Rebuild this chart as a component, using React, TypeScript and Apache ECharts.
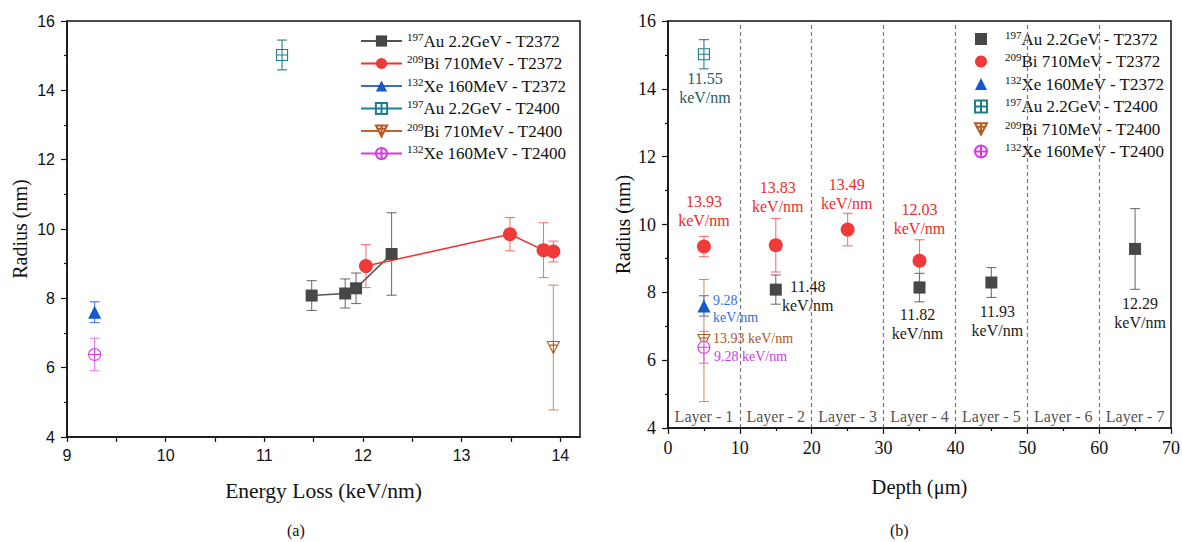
import { useEffect, useRef } from 'react';
import * as echarts from 'echarts';

// ---------------- data ----------------
const auT2372Loss = [11.48, 11.82, 11.93, 12.29];
const auT2372Radius = [8.08, 8.14, 8.29, 9.28];
const auT2372Err = [0.43, 0.42, 0.44, 1.19];
const auT2372Depth = [15, 35, 45, 65];

const biT2372Loss = [12.03, 13.49, 13.83, 13.93];
const biT2372Radius = [8.93, 9.85, 9.39, 9.35];
const biT2372Err = [0.62, 0.48, 0.79, 0.3];
const biT2372Depth = [35, 25, 15, 5];

const xeT2372Loss = [9.28];
const xeT2372Radius = [7.6];
const xeT2372Err = [0.3];
const xeT2372Depth = [5];

const auT2400Loss = [11.18];
const auT2400Radius = [15.02];
const auT2400Err = [0.43];
const auT2400Depth = [5];
const auT2400Quoted = [11.55];

const biT2400Loss = [13.93];
const biT2400Radius = [6.58];
const biT2400Err = [1.8];
const biT2400Depth = [5];

const xeT2400Loss = [9.28];
const xeT2400Radius = [6.38];
const xeT2400Err = [0.47];
const xeT2400Depth = [5];

const layerNames = ['Layer - 1', 'Layer - 2', 'Layer - 3', 'Layer - 4', 'Layer - 5', 'Layer - 6', 'Layer - 7'];
const layerCenters = [5, 15, 25, 35, 45, 55, 65];
const layerBounds = [10, 20, 30, 40, 50, 60];

const lossTickLabels = [9, 10, 11, 12, 13, 14];
const lossTickMarks = [9, 9.5, 10, 10.5, 11, 11.5, 12, 12.5, 13, 13.5, 14];

// ---------------- styles ----------------
const SERIF = "'Liberation Serif', 'Times New Roman', 'DejaVu Serif', serif";
const SANS = "'Liberation Sans', Arial, 'DejaVu Sans', sans-serif";
const INK = '#111';

const SQUARE_PLUS = 'path://M1 1H19V19H1Z M10 1V19 M1 10H19';
const CIRCLE_PLUS = 'path://M19 10A9 9 0 1 1 1 10A9 9 0 1 1 19 10Z M10 1V19 M1 10H19';
const TRI_PLUS = 'path://M1 2H19L10 19Z M10 2V19 M4.5 7H15.5';

type Place = { dx: number; dy: number; align?: string };

const specs = [
  {
    key: 'au2372', mass: '197', text: 'Au 2.2GeV - T2372',
    loss: auT2372Loss, radius: auT2372Radius, err: auT2372Err, depth: auT2372Depth, notes: auT2372Loss,
    symbol: 'rect', size: 12, fill: '#474747', stroke: '#474747', hollow: false,
    lineColor: '#555', errColor: 'rgba(70,70,70,0.75)',
    noteColor: '#1a1a1a', noteSize: 16, noteLine: 19, oneLine: false,
  },
  {
    key: 'bi2372', mass: '209', text: 'Bi 710MeV - T2372',
    loss: biT2372Loss, radius: biT2372Radius, err: biT2372Err, depth: biT2372Depth, notes: biT2372Loss,
    symbol: 'circle', size: 14, fill: '#f03a3a', stroke: '#f03a3a', hollow: false,
    lineColor: '#f03333', errColor: 'rgba(240,60,60,0.7)',
    noteColor: '#ee2b2b', noteSize: 16, noteLine: 19, oneLine: false,
  },
  {
    key: 'xe2372', mass: '132', text: 'Xe 160MeV - T2372',
    loss: xeT2372Loss, radius: xeT2372Radius, err: xeT2372Err, depth: xeT2372Depth, notes: xeT2372Loss,
    symbol: 'triangle', size: 13, fill: '#1559cf', stroke: '#1559cf', hollow: false,
    lineColor: '#2f6fdc', errColor: 'rgba(40,100,220,0.85)',
    noteColor: '#2f6fdc', noteSize: 14, noteLine: 17, oneLine: false,
  },
  {
    key: 'au2400', mass: '197', text: 'Au 2.2GeV - T2400',
    loss: auT2400Loss, radius: auT2400Radius, err: auT2400Err, depth: auT2400Depth, notes: auT2400Quoted,
    symbol: SQUARE_PLUS, size: 11, fill: '#fff', stroke: '#1f7d8c', hollow: true,
    lineColor: '#1f8190', errColor: 'rgba(20,110,125,0.9)',
    noteColor: '#245c63', noteSize: 16, noteLine: 19, oneLine: false,
  },
  {
    key: 'bi2400', mass: '209', text: 'Bi 710MeV - T2400',
    loss: biT2400Loss, radius: biT2400Radius, err: biT2400Err, depth: biT2400Depth, notes: biT2400Loss,
    symbol: TRI_PLUS, size: 12, fill: '#fff', stroke: '#b85a1f', hollow: true,
    lineColor: '#c0642a', errColor: 'rgba(200,110,50,0.75)',
    noteColor: '#b0551c', noteSize: 14, noteLine: 16, oneLine: true,
  },
  {
    key: 'xe2400', mass: '132', text: 'Xe 160MeV - T2400',
    loss: xeT2400Loss, radius: xeT2400Radius, err: xeT2400Err, depth: xeT2400Depth, notes: xeT2400Loss,
    symbol: CIRCLE_PLUS, size: 12, fill: '#fff', stroke: '#d23ce0', hollow: true,
    lineColor: '#d23ce0', errColor: 'rgba(220,80,230,0.75)',
    noteColor: '#d03ce0', noteSize: 14, noteLine: 16, oneLine: true,
  },
];

const notePlacement: Record<string, Place[]> = {
  au2372: [{ dx: 32, dy: 6 }, { dx: -2, dy: 36 }, { dx: 6, dy: 39 }, { dx: 5, dy: 64 }],
  bi2372: [{ dx: 0, dy: -42 }, { dx: -1, dy: -36 }, { dx: 2, dy: -48 }, { dx: 0, dy: -36 }],
  xe2372: [{ dx: 9, dy: 3, align: 'left' }],
  au2400: [{ dx: 1, dy: 34 }],
  bi2400: [{ dx: 9, dy: -2, align: 'left' }],
  xe2400: [{ dx: 10, dy: 9, align: 'left' }],
};

function errorBar(color: string, cap: number) {
  return (_params: any, api: any) => {
    const x = api.value(0);
    const y = api.value(1);
    const e = api.value(2);
    const top = api.coord([x, y + e]);
    const bot = api.coord([x, y - e]);
    const style = { stroke: color, lineWidth: 1.1, fill: 'none' };
    return {
      type: 'group',
      children: [
        { type: 'line', shape: { x1: top[0], y1: top[1], x2: bot[0], y2: bot[1] }, style },
        { type: 'line', shape: { x1: top[0] - cap, y1: top[1], x2: top[0] + cap, y2: top[1] }, style },
        { type: 'line', shape: { x1: bot[0] - cap, y1: bot[1], x2: bot[0] + cap, y2: bot[1] }, style },
      ],
    };
  };
}

const legendRich = {
  sup: { fontSize: 11, fontFamily: SERIF, color: INK, verticalAlign: 'top', lineHeight: 12 },
  main: { fontSize: 17, fontFamily: SERIF, color: INK, lineHeight: 20 },
};

function legendText(name: string) {
  const key = name.replace('_b', '');
  const s = specs.find((d) => d.key === key);
  if (!s) return name;
  return `{sup|${s.mass}}{main|${s.text}}`;
}

function axisCommon() {
  return {
    type: 'value',
    axisLine: { show: true, onZero: false, lineStyle: { color: INK, width: 1.5 } },
    splitLine: { show: false },
  };
}

const serifName = { fontFamily: SERIF, fontSize: 20, color: INK };

function buildOption() {
  const series: any[] = [];

  specs.forEach((s) => {
    // left chart: error bars + line/markers
    series.push({
      type: 'custom', name: 'eb-a-' + s.key, xAxisIndex: 0, yAxisIndex: 0, z: 1, silent: true,
      renderItem: errorBar(s.errColor, 5),
      data: s.loss.map((x, i) => [x, s.radius[i], s.err[i]]),
    });
    series.push({
      type: 'line', name: s.key, xAxisIndex: 0, yAxisIndex: 0, z: 3,
      symbol: s.symbol, symbolSize: s.size, showAllSymbol: true, silent: true,
      data: s.loss.map((x, i) => [x, s.radius[i]]),
      itemStyle: { color: s.fill, borderColor: s.stroke, borderWidth: s.hollow ? 1.1 : 0 },
      lineStyle: { color: s.lineColor, width: 1.6 },
      emphasis: { disabled: true },
    });
    // right chart: error bars + scatter with notes
    series.push({
      type: 'custom', name: 'eb-b-' + s.key, xAxisIndex: 1, yAxisIndex: 1, z: 1, silent: true,
      renderItem: errorBar(s.errColor, 5),
      data: s.depth.map((d, i) => [d, s.radius[i], s.err[i]]),
    });
    const places = notePlacement[s.key];
    series.push({
      type: 'scatter', name: s.key + '_b', xAxisIndex: 1, yAxisIndex: 1, z: 3, silent: true,
      symbol: s.symbol, symbolSize: s.size,
      itemStyle: { color: s.fill, borderColor: s.stroke, borderWidth: s.hollow ? 1.1 : 0, opacity: 1 },
      emphasis: { disabled: true },
      label: {
        show: true, position: 'inside', color: s.noteColor, fontSize: s.noteSize, lineHeight: s.noteLine,
        fontFamily: SERIF, textBorderWidth: 0,
        formatter: (p: any) => {
          const v = Number(s.notes[p.dataIndex]).toFixed(2);
          return s.oneLine ? `${v} keV/nm` : `${v}\nkeV/nm`;
        },
      },
      data: s.depth.map((d, i) => ({
        value: [d, s.radius[i]],
        label: { offset: [places[i].dx, places[i].dy], align: places[i].align || 'center' },
      })),
    });
  });

  // layer labels + dashed layer boundaries
  series.push({
    type: 'scatter', name: 'layers', xAxisIndex: 1, yAxisIndex: 1, z: 2, silent: true,
    symbolSize: 1, itemStyle: { color: 'transparent' },
    label: {
      show: true, position: 'inside', offset: [0, -12], color: '#222', fontSize: 16, fontFamily: SERIF,
      textBorderWidth: 0, formatter: (p: any) => layerNames[p.dataIndex],
    },
    data: layerCenters.map((c) => [c, 4]),
    markLine: {
      silent: true, symbol: ['none', 'none'], animation: false,
      label: { show: false },
      lineStyle: { type: [4, 3], color: '#777', width: 1.2 },
      emphasis: { disabled: true },
      data: layerBounds.map((b) => ({ xAxis: b })),
    },
  });

  return {
    animation: false,
    backgroundColor: '#fff',
    textStyle: { fontFamily: SERIF },
    grid: [
      { left: 67, top: 21, width: 513, height: 416, z: 6, show: true, borderColor: INK, borderWidth: 1.5, backgroundColor: 'transparent', outerBoundsMode: 'none', containLabel: false },
      { left: 668, top: 21, width: 503, height: 407, z: 6, show: true, borderColor: INK, borderWidth: 1.5, backgroundColor: 'transparent', outerBoundsMode: 'none', containLabel: false },
    ],
    xAxis: [
      {
        ...axisCommon(), gridIndex: 0, min: 9, max: 14.2, position: 'bottom',
        axisTick: { show: true, inside: false, length: 5, customValues: lossTickMarks, lineStyle: { color: INK, width: 1.2 } },
        axisLabel: { show: true, customValues: lossTickLabels, margin: 10, fontFamily: SANS, fontSize: 16, color: INK },
        minorTick: { show: false },
        name: 'Energy Loss (keV/nm)', nameLocation: 'middle', nameGap: 43,
        nameTextStyle: { ...serifName, fontSize: 21.5 },
      },
      {
        ...axisCommon(), gridIndex: 1, min: 0, max: 70, interval: 10, position: 'bottom',
        axisTick: { show: true, inside: false, length: 6, lineStyle: { color: INK, width: 1.2 } },
        minorTick: { show: true, splitNumber: 2, length: 3, lineStyle: { color: INK, width: 1.2 } },
        axisLabel: { show: true, margin: 11, fontFamily: SERIF, fontSize: 18, color: INK },
        name: 'Depth (μm)', nameLocation: 'middle', nameGap: 48,
        nameTextStyle: { ...serifName, fontSize: 20.5 },
      },
    ],
    yAxis: [
      {
        ...axisCommon(), gridIndex: 0, min: 4, max: 16, interval: 2, position: 'left',
        axisTick: { show: true, inside: false, length: 6, lineStyle: { color: INK, width: 1.2 } },
        minorTick: { show: true, splitNumber: 2, length: 3, lineStyle: { color: INK, width: 1.2 } },
        axisLabel: { show: true, margin: 12, fontFamily: SANS, fontSize: 16, color: INK },
        name: 'Radius (nm)', nameLocation: 'middle', nameGap: 37, nameTextStyle: serifName,
      },
      {
        ...axisCommon(), gridIndex: 1, min: 4, max: 16, interval: 2, position: 'left',
        axisTick: { show: true, inside: false, length: 6, lineStyle: { color: INK, width: 1.2 } },
        minorTick: { show: true, splitNumber: 2, length: 3, lineStyle: { color: INK, width: 1.2 } },
        axisLabel: { show: true, margin: 12, fontFamily: SERIF, fontSize: 18, color: INK },
        name: 'Radius (nm)', nameLocation: 'middle', nameGap: 35, nameTextStyle: serifName,
      },
    ],
    legend: [
      {
        left: 360, top: 31, orient: 'vertical', padding: 0, itemGap: 4, itemWidth: 41, itemHeight: 14,
        selectedMode: false, data: specs.map((s) => s.key), formatter: legendText,
        textStyle: { fontFamily: SERIF, fontSize: 17, color: INK, rich: legendRich },
      },
      {
        left: 974, top: 21, orient: 'vertical', padding: [8, 2, 8, 0], itemGap: 4, itemWidth: 12, itemHeight: 12,
        backgroundColor: '#fff', selectedMode: false, data: specs.map((s) => s.key + '_b'), formatter: legendText,
        textStyle: { fontFamily: SERIF, fontSize: 17, color: INK, rich: legendRich, padding: [0, 0, 0, 13] },
      },
    ],
    graphic: [
      { type: 'text', left: 287, top: 522, style: { text: '(a)', fontFamily: SERIF, fontSize: 16, fill: INK } },
      { type: 'text', left: 890, top: 522, style: { text: '(b)', fontFamily: SERIF, fontSize: 16, fill: INK } },
    ],
    series,
  };
}

export default function App() {
  const ref = useRef<HTMLDivElement>(null);
  useEffect(() => {
    if (!ref.current) return;
    const chart = echarts.init(ref.current, undefined, { renderer: 'svg' });
    chart.setOption(buildOption() as any);
    return () => chart.dispose();
  }, []);
  return (
    <div
      ref={ref}
      style={{ position: 'absolute', left: 0, top: 0, width: 1182, height: 542, background: '#fff' }}
    />
  );
}
